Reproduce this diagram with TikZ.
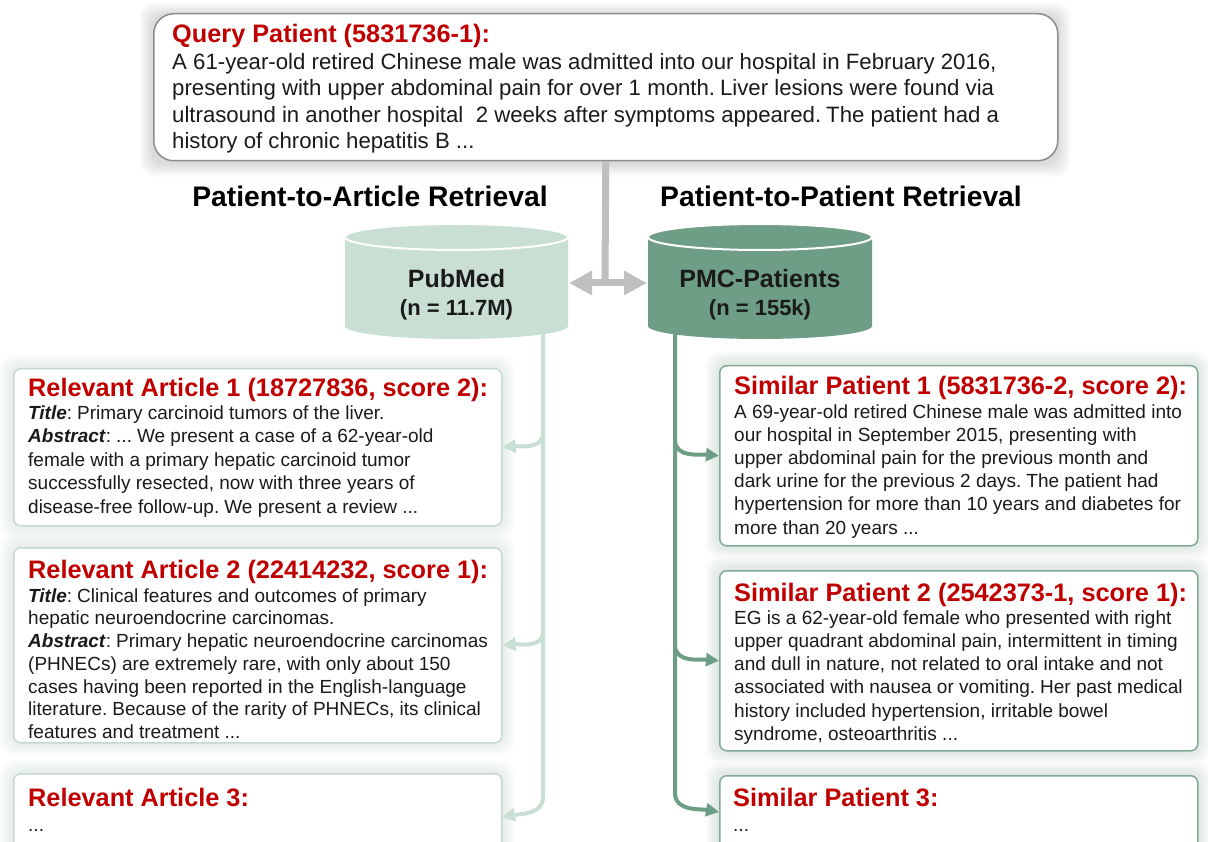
\documentclass[tikz,border=0pt]{standalone}
\usepackage{fontspec}
\setmainfont{Liberation Sans}
\usetikzlibrary{arrows.meta}
\definecolor{titlered}{HTML}{C00000}
\definecolor{bodyblack}{HTML}{1A1A1A}
\definecolor{pubfill}{HTML}{C9DFD3}
\definecolor{pmcfill}{HTML}{6F9E86}
\definecolor{lborder}{HTML}{C5DACE}
\definecolor{rborder}{HTML}{82A993}
\definecolor{lglow}{HTML}{B9D0C3}
\definecolor{rglow}{HTML}{9EBFAD}
\definecolor{qborder}{HTML}{8C8C8C}
\definecolor{gconn}{HTML}{BFBFBF}
\newcommand{\glowbox}[7]{%
  \foreach \g in {1.5,3,...,13.5}{%
    \fill[#5, opacity=#7, rounded corners=14pt] (#1-\g,#2-\g+#6) rectangle (#3+\g,#4+\g+#6);
  }}
\newcommand{\sfont}[2]{\fontsize{#1}{#2}\selectfont\spaceskip .278em plus .1em minus .03em\relax}
\tikzset{
  qbox/.style={draw=qborder, line width=1.5pt, fill=white, rounded corners=20pt, inner sep=0, anchor=north west},
  lbox/.style={draw=lborder, line width=1.5pt, fill=white, rounded corners=7pt, inner sep=0, anchor=north west, minimum width=488},
  rbox/.style={draw=rborder, line width=1.5pt, fill=white, rounded corners=7pt, inner sep=0, anchor=north west, minimum width=478},
  boxtext/.style={anchor=base west, inner sep=0, align=left, text width=1000, text=bodyblack},
  heading/.style={anchor=base, inner sep=0, text=black},
  cyltext/.style={anchor=base, inner sep=0, text=bodyblack},
  lline/.style={draw=pubfill, line width=4pt},
  rline/.style={draw=pmcfill, line width=4pt},
  ltip/.style={-{Triangle[length=13pt,width=13pt]}},
  gline/.style={draw=gconn, line width=7pt},
}
\newcommand{\ttl}[1]{{\sfont{25.3}{23.2}\bfseries\color{titlered}#1}}
\newcommand{\qttl}[1]{{\sfont{25.3}{26.5}\bfseries\color{titlered}#1}}
\newcommand{\lbl}[1]{\textbf{\textit{#1}}}
\begin{document}
\begin{tikzpicture}[x=1pt,y=-1pt]
\useasboundingbox (0,0) rectangle (1208,842);
\clip (0,0) rectangle (1208,842);
\fill[white] (0,0) rectangle (1208,842);

% ---------- shadows ----------
\glowbox{153}{13}{1057}{160}{gray}{3}{0.03}
\glowbox{13}{368}{501}{525}{lglow}{0}{0.04}
\glowbox{13}{547}{501}{742}{lglow}{0}{0.04}
\glowbox{13}{773}{501}{900}{lglow}{0}{0.04}
\glowbox{719}{365}{1197}{545}{rglow}{0}{0.04}
\glowbox{719}{570}{1197}{750}{rglow}{0}{0.04}
\glowbox{719}{775}{1197}{900}{rglow}{0}{0.04}

% ---------- query ----------
\node[qbox, minimum width=904, minimum height=147] (query) at (153,13) {};
\node[boxtext] (qtext) at (172,43) {\sfont{22.2}{26.5}%
\qttl{Query Patient (5831736-1):}\\
A 61-year-old retired Chinese male was admitted into our hospital in February 2016,\\
presenting with upper abdominal pain for over 1 month. Liver lesions were found via\\
ultrasound in another hospital~ 2 weeks after symptoms appeared. The patient had a\\
history of chronic hepatitis B ...\par};

% ---------- headings ----------
\node[heading] (h1) at (370,207) {\sfont{28.3}{30}\bfseries Patient-to-Article Retrieval};
\node[heading] (h2) at (841,207) {\sfont{28.3}{30}\bfseries Patient-to-Patient Retrieval};

% ---------- coordinates ----------
\coordinate (pubbot) at (543,325);
\coordinate (pmcbot) at (675,325);
\coordinate (lb1) at (543,433);
\coordinate (lb2) at (543,632);
\coordinate (lbend) at (543,797);
\coordinate (rb1) at (675,440);
\coordinate (rb2) at (675,645);
\coordinate (rbend) at (675,793);
\coordinate (la3tip) at (502,817);
\coordinate (ra3tip) at (719,812);

% ---------- main buses (under the cylinders) ----------
\draw[lline, ltip] (pubbot) -- (lbend) to[out=-90,in=10] (la3tip);
\draw[rline, ltip] (pmcbot) -- (rbend) to[out=-90,in=170] (ra3tip);

% ---------- gray connector ----------
\coordinate (gjoin) at (605,283);
\coordinate (gl) at (569,283);
\coordinate (gr) at (647,283);
\draw[gline] (query.south) -- (gjoin);
\draw[gline, {Triangle[length=23pt,width=23pt]}-{Triangle[length=23pt,width=23pt]}] (gl) -- (gr);

% ---------- cylinders ----------
\fill[pubfill] (345,237) -- (345,326) arc[start angle=180, end angle=0, x radius=111.5, y radius=13] -- (568,237) arc[start angle=0, end angle=-180, x radius=111.5, y radius=13] -- cycle;
\draw[white, line width=2pt] (456.5,237) ellipse [x radius=111.5, y radius=13];
\node[cyltext] (pubmed) at (456.5,288) {\sfont{25}{28}\bfseries PubMed};
\node[cyltext] (pubmedn) at (456.5,316) {\sfont{22}{28}\bfseries (n = 11.7M)};

\fill[pmcfill] (648,237) -- (648,326) arc[start angle=180, end angle=0, x radius=112, y radius=13] -- (872,237) arc[start angle=0, end angle=-180, x radius=112, y radius=13] -- cycle;
\draw[white, line width=2pt] (760,237) ellipse [x radius=112, y radius=13];
\node[cyltext] (pmc) at (760,288) {\sfont{25}{28}\bfseries PMC-Patients};
\node[cyltext] (pmcn) at (760,316) {\sfont{22}{28}\bfseries (n = 155k)};

% ---------- left boxes ----------
\node[lbox, minimum height=157] (la1) at (13,368) {};
\node[lbox, minimum height=195] (la2) at (13,547) {};
\node[lbox, minimum height=130] (la3) at (13,773) {};

\node[boxtext] (la1t) at (28,396) {\sfont{19}{23.4}%
\ttl{Relevant Article 1 (18727836, score 2):}\\
\lbl{Title}: Primary carcinoid tumors of the liver.\\
\lbl{Abstract}: ... We present a case of a 62-year-old\\
female with a primary hepatic carcinoid tumor\\
successfully resected, now with three years of\\
disease-free follow-up. We present a review ...\par};

\node[boxtext] (la2t) at (28,578) {\sfont{19}{22.7}%
\ttl{Relevant Article 2 (22414232, score 1):}\\[1.5pt]
\lbl{Title}: Clinical features and outcomes of primary\\
hepatic neuroendocrine carcinomas.\\
\lbl{Abstract}: Primary hepatic neuroendocrine carcinomas\\
(PHNECs) are extremely rare, with only about 150\\
cases having been reported in the English-language\\
literature. Because of the rarity of PHNECs, its clinical\\
features and treatment ...\par};

\node[boxtext] (la3t) at (28,806) {\sfont{19}{25}%
\ttl{Relevant Article 3:}\\
...\par};

% ---------- right boxes ----------
\node[rbox, minimum height=180] (ra1) at (719,365) {};
\node[rbox, minimum height=180] (ra2) at (719,570) {};
\node[rbox, minimum height=130] (ra3) at (719,775) {};

\node[boxtext] (ra1t) at (734,395) {\sfont{19}{23.2}%
\ttl{Similar Patient 1 (5831736-2, score 2):}\\
A 69-year-old retired Chinese male was admitted into\\
our hospital in September 2015, presenting with\\
upper abdominal pain for the previous month and\\
dark urine for the previous 2 days. The patient had\\
hypertension for more than 10 years and diabetes for\\
more than 20 years ...\par};

\node[boxtext] (ra2t) at (734,601) {\sfont{19}{23.2}%
\ttl{Similar Patient 2 (2542373-1, score 1):}\\
EG is a 62-year-old female who presented with right\\
upper quadrant abdominal pain, intermittent in timing\\
and dull in nature, not related to oral intake and not\\
associated with nausea or vomiting. Her past medical\\
history included hypertension, irritable bowel\\
syndrome, osteoarthritis ...\par};

\node[boxtext] (ra3t) at (733,806) {\sfont{19}{25}%
\ttl{Similar Patient 3:}\\
...\par};

% ---------- branch connectors ----------
\draw[lline, ltip] (lb1) to[out=-90,in=5] (la1.east);
\draw[lline, ltip] (lb2) to[out=-90,in=5] (la2.east);
\draw[rline, ltip] (rb1) to[out=-90,in=175] (ra1.west);
\draw[rline, ltip] (rb2) to[out=-90,in=175] (ra2.west);
\end{tikzpicture}
\end{document}
